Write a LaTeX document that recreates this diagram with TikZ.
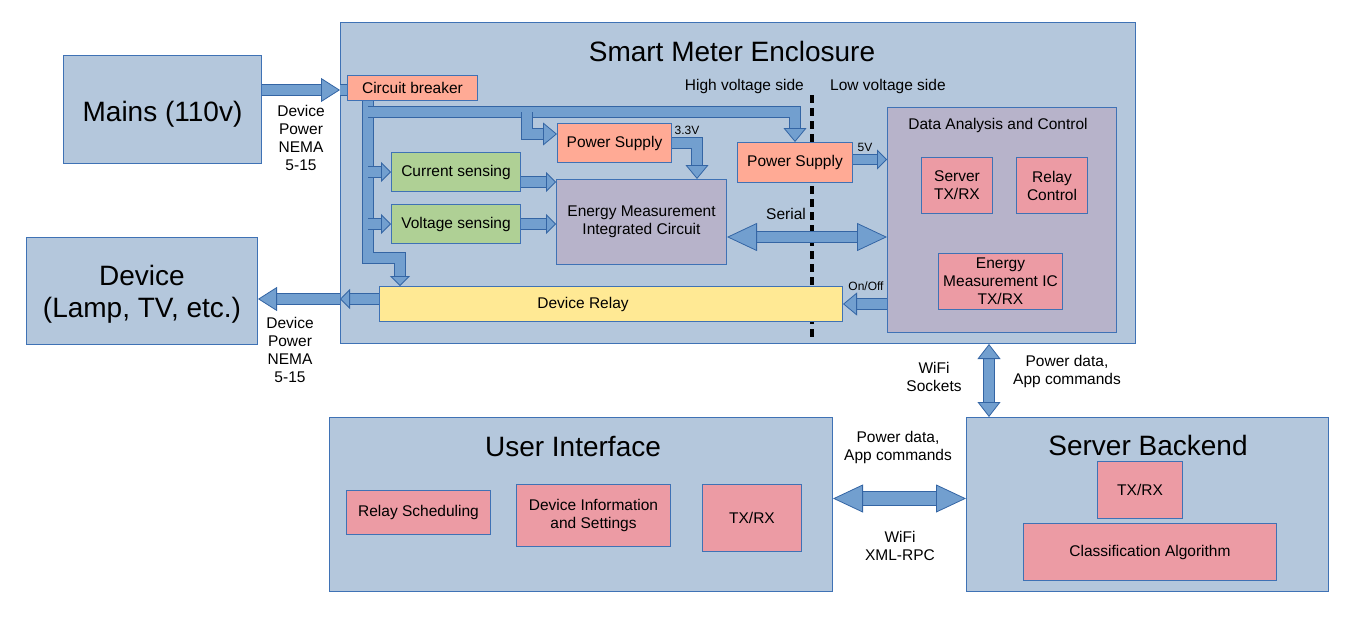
\documentclass[tikz,border=0pt]{standalone}
\usepackage{fontspec}
\setmainfont{Liberation Sans}
\usetikzlibrary{arrows.meta,positioning}

\definecolor{pipefill}{HTML}{729FCF}
\definecolor{pipeline}{HTML}{3465A4}
\definecolor{boxline}{HTML}{3F72B5}
\definecolor{encfill}{HTML}{B4C7DC}
\definecolor{salmon}{HTML}{FFAA95}
\definecolor{sensegreen}{HTML}{AFD095}
\definecolor{icfill}{HTML}{B7B3CA}
\definecolor{relayfill}{HTML}{FFE994}
\definecolor{pinkfill}{HTML}{EC9BA4}

\newcommand{\bigfont}{\fontsize{28}{32}\selectfont}
\newcommand{\midfont}{\fontsize{15.5}{18}\selectfont}
\newcommand{\tinyfont}{\fontsize{12}{14}\selectfont}

\begin{document}
\begin{tikzpicture}[x=1pt,y=-1pt,align=center,node distance=12pt]
\tikzstyle{block}=[rectangle,draw=boxline,line width=1pt,anchor=north west,inner sep=0pt,font=\midfont]
\tikzstyle{lbl}=[inner sep=0pt,font=\midfont]
\tikzstyle{tag}=[inner sep=0pt,font=\tinyfont]
\tikzstyle{pipe}=[draw=pipeline,line width=0.8pt,double=pipefill,double distance=9.5pt]
\tikzstyle{tipS}=[-{Triangle[length=10pt,width=20pt,line width=0.8pt,fill=pipefill]}]
\tikzstyle{tipM}=[-{Triangle[length=14pt,width=23pt,line width=0.8pt,fill=pipefill]}]
\tikzstyle{tipL}=[-{Triangle[length=19pt,width=24pt,line width=0.8pt,fill=pipefill]}]
\tikzstyle{bothS}=[{Triangle[length=15pt,width=23pt,line width=0.8pt,fill=pipefill]}-{Triangle[length=15pt,width=23pt,line width=0.8pt,fill=pipefill]}]
\tikzstyle{bothL}=[{Triangle[length=30pt,width=28pt,line width=0.8pt,fill=pipefill]}-{Triangle[length=30pt,width=28pt,line width=0.8pt,fill=pipefill]}]
\tikzstyle{divider}=[line width=4pt,dash pattern=on 8pt off 5pt]

\useasboundingbox (0,0) rectangle (1368,619);

% outside the meter
\node[block,fill=encfill,minimum width=198pt,minimum height=108pt,label={[font=\bigfont,yshift=-5pt]center:Mains (110v)}] (mains) at (63,55) {};
\node[block,fill=encfill,minimum width=231pt,minimum height=107pt,label={[font=\bigfont,align=center,yshift=-3pt]center:Device\\(Lamp, TV, etc.)}] (device) at (26,237) {};

% smart meter enclosure
\node[block,fill=encfill,minimum width=795pt,minimum height=321pt] (enc) at (340,22) {};
\node[lbl,font=\bigfont] (enctitle) at (732,51) {Smart Meter Enclosure};
\draw[divider] (812,95) -- (812,341);
\node[lbl,anchor=east] (hvlbl) at (804,86) {High voltage side};
\node[lbl,anchor=west] (lvlbl) at (830,86) {Low voltage side};

\node[block,fill=salmon,minimum width=130pt,minimum height=25pt] (cb) at (347,75) {Circuit breaker};
\node[block,fill=sensegreen,minimum width=129pt,minimum height=39pt] (cs) at (391,152) {Current sensing};
\node[block,fill=sensegreen,minimum width=129pt,minimum height=39pt,below=12pt of cs] (vs) {Voltage sensing};
\node[block,fill=salmon,minimum width=114pt,minimum height=39pt] (ps1) at (557,123) {Power Supply};
\node[block,fill=icfill,minimum width=170pt,minimum height=85pt] (emic) at (556,179) {Energy Measurement\\Integrated Circuit};
\node[block,fill=salmon,minimum width=115pt,minimum height=40pt] (ps2) at (737,142) {Power Supply};
\node[block,fill=relayfill,minimum width=463pt,minimum height=35pt,label={[font=\midfont,xshift=-28pt]center:Device Relay}] (relay) at (379,286) {};

\node[block,fill=icfill,minimum width=229pt,minimum height=225pt] (dac) at (887,107) {};
\node[lbl] (dactitle) at (998,125) {Data Analysis and Control};
\node[block,fill=pinkfill,minimum width=71pt,minimum height=56pt] (srvtx) at (921,157) {Server\\TX/RX};
\node[block,fill=pinkfill,minimum width=71pt,minimum height=56pt,right=23pt of srvtx] (relctl) {Relay\\Control};
\node[block,fill=pinkfill,minimum width=124pt,minimum height=56pt] (emtx) at (938,253) {Energy\\Measurement IC\\TX/RX};

% user interface and server
\node[block,fill=encfill,minimum width=503pt,minimum height=174pt] (ui) at (329,417) {};
\node[lbl,font=\bigfont] (uititle) at (573,446) {User Interface};
\node[block,fill=pinkfill,minimum width=144pt,minimum height=44pt] (relsch) at (346,490) {Relay Scheduling};
\node[block,fill=pinkfill,minimum width=154pt,minimum height=62pt] (devinfo) at (516,484) {Device Information\\and Settings};
\node[block,fill=pinkfill,minimum width=99pt,minimum height=67pt] (uitx) at (702,484) {TX/RX};

\node[block,fill=encfill,minimum width=362pt,minimum height=174pt] (sb) at (966,417) {};
\node[lbl,font=\bigfont] (sbtitle) at (1148,445) {Server Backend};
\node[block,fill=pinkfill,minimum width=85pt,minimum height=57pt] (sbtx) at (1097,461) {TX/RX};
\node[block,fill=pinkfill,minimum width=253pt,minimum height=57pt] (cls) at (1023,523) {Classification Algorithm};

% power lines
\coordinate (busT) at (368,112);
\coordinate (busB) at (368,258);
\coordinate (tapPS) at (527,112);
\coordinate (wifi) at ([xshift=23pt]sb.north west);

\draw[pipe,tipL] ([yshift=-2pt]cb.west -| mains.east) -- ([yshift=-2pt]cb.west -| enc.west);
\draw[pipe] ([yshift=-2pt]cb.west -| enc.west) -- ([yshift=-2pt]cb.west);
\draw[pipe,tipS] (cb.south -| busT) -- (busB) -| ([xshift=21pt]relay.north west);
\draw[pipe,tipM] (busT) -| (ps2.north);
\draw[pipe,tipM] (tapPS) |- ([yshift=9pt]ps1.west);
\draw[pipe,tipS] (cs.west -| busT) -- (cs.west);
\draw[pipe,tipS] (vs.west -| busT) -- (vs.west);
\draw[pipe,tipS] ([yshift=-10pt]cs.east) -- ([yshift=-10pt]cs.east -| emic.west);
\draw[pipe,tipS] (vs.east) -- (vs.east -| emic.west);
\draw[pipe,tipM] (ps1.east) -| ([xshift=-30pt]emic.north east);
\draw[pipe,tipS] ([yshift=3pt]ps2.east) -- ([yshift=3pt]ps2.east -| dac.west);
\draw[pipe,bothL] ([yshift=-15pt]emic.east) -- ([yshift=-15pt]emic.east -| dac.west);
\draw[pipe,tipM] (relay.east -| dac.west) -- (relay.east);
\draw[pipe,tipS] ([yshift=5pt]relay.west) -- ([yshift=5pt]relay.west -| enc.west);
\draw[pipe,tipL] ([yshift=5pt]relay.west -| enc.west) -- ([yshift=5pt]relay.west -| device.east);

% data links
\draw[pipe,bothS] (wifi |- enc.south) -- (wifi);
\draw[pipe,bothL,double distance=12.5pt] ([yshift=6pt]ui.east) -- ([yshift=6pt]ui.east -| sb.west);

% labels
\node[tag] (v33) at (687,130) {3.3V};
\node[tag] (v5) at (865,147) {5V};
\node[tag] (onoff) at (866,286) {On/Off};
\node[lbl] (seriallbl) at (786,214) {Serial};
\node[lbl] (inlbl) at (301,138) {Device\\Power\\NEMA\\5-15};
\node[lbl] (outlbl) at (290,350) {Device\\Power\\NEMA\\5-15};
\node[lbl] (socklbl) at (934,377) {WiFi\\Sockets};
\node[lbl] (datalbl) at (1067,371) {Power data,\\App commands};
\node[lbl] (uidatalbl) at (898,447) {Power data,\\App commands};
\node[lbl] (rpclbl) at (900,546) {WiFi\\XML-RPC};
\end{tikzpicture}
\end{document}
